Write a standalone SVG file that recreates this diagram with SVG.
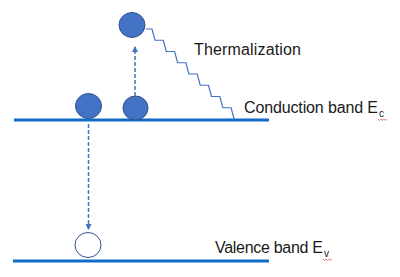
<svg xmlns="http://www.w3.org/2000/svg" width="400" height="277" viewBox="0 0 400 277">
<defs>
<style>
.band{stroke:#0E6BC6;stroke-width:3;fill:none}
.dash{stroke:#4472C4;stroke-width:1.5;stroke-dasharray:4 2;fill:none}
.stair{stroke:#4472C4;stroke-width:1.2;fill:none}
.el{fill:#4472C4;stroke:#2F528F;stroke-width:1}
.hole{fill:#fff;stroke:#2F528F;stroke-width:1}
.lbl{font-family:"Liberation Sans",Arial,sans-serif;font-size:16px;fill:#1a1a1a}
.sub{font-family:"Liberation Sans",Arial,sans-serif;font-size:10px;fill:#1a1a1a}
.squig{stroke:#E04040;stroke-width:0.7;fill:none}
</style>
<marker id="ah" markerWidth="6" markerHeight="6" refX="5" refY="3" orient="auto" markerUnits="userSpaceOnUse">
<path d="M0,0 L6,3 L0,6 Z" fill="#4472C4"/>
</marker>
</defs>
<rect width="400" height="277" fill="#fff"/>
<g id="conduction-band">
<line class="band" x1="14" y1="120" x2="269" y2="120"/>
<text class="lbl" x="244" y="113" textLength="134">Conduction band E</text>
<text class="sub" x="379" y="117">c</text>
<path class="squig" d="M378,119 l1.5,1.5 l1.5,-1.5 l1.5,1.5 l1.5,-1.5 l1.5,1.5 l1.5,-1.5"/>
</g>
<g id="valence-band">
<line class="band" x1="13" y1="261" x2="269" y2="261"/>
<text class="lbl" x="215" y="253" textLength="108">Valence band E</text>
<text class="sub" x="324" y="257">v</text>
<path class="squig" d="M323,259 l1.5,1.5 l1.5,-1.5 l1.5,1.5 l1.5,-1.5 l1.5,1.5 l1.5,-1.5"/>
</g>
<g id="thermalization-label">
<text class="lbl" x="194" y="55" textLength="107">Thermalization</text>
</g>
<g id="electron-left"><ellipse class="el" cx="88.5" cy="106" rx="13" ry="12.5"/></g>
<g id="electron-mid"><ellipse class="el" cx="135.5" cy="108" rx="12.5" ry="12"/></g>
<g id="electron-top"><ellipse class="el" cx="132" cy="25" rx="13" ry="12.5"/></g>
<g id="hole"><ellipse class="hole" cx="88" cy="245" rx="13" ry="12.5"/></g>
<g id="connectors">
<line class="dash" x1="135" y1="96" x2="135" y2="47" marker-end="url(#ah)"/>
<line class="dash" x1="88.5" y1="124" x2="88.5" y2="229" marker-end="url(#ah)"/>
<path class="stair" d="M146,29 h6 l3,11.25 h8.3 l3,11.25 h8.3 l3,11.25 h8.3 l3,11.25 h8.3 l3,11.25 h8.3 l3,11.25 h8.3 l3,11.25 h8.3 l3,11.25"/>
</g>
</svg>
